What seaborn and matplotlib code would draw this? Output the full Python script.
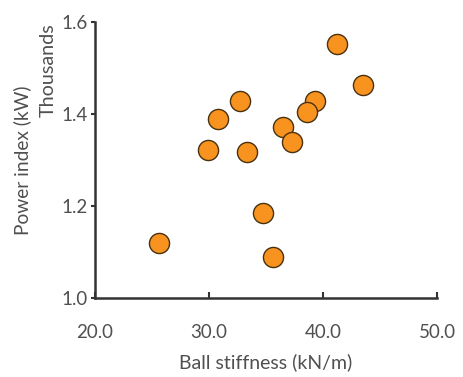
import matplotlib
matplotlib.use("Agg")
import matplotlib.pyplot as plt
import seaborn as sns
import pandas as pd

stiffness = [41.2, 43.5, 32.7, 39.3, 38.6, 30.8, 36.5, 37.3, 29.9, 33.3, 34.7, 25.6, 35.6]
power = [1.552, 1.463, 1.429, 1.428, 1.405, 1.389, 1.372, 1.338, 1.322, 1.316, 1.184, 1.120, 1.088]
x_ticks = [20.0, 30.0, 40.0, 50.0]
y_ticks = [1.0, 1.2, 1.4, 1.6]

df = pd.DataFrame({"stiffness": stiffness, "power": power})

sns.set_theme(style="white")
plt.rcParams['font.family'] = ['Lato', 'DejaVu Sans']

fig = plt.figure(figsize=(4.63, 3.77), dpi=100)
ax = fig.add_axes([0.205, 0.21, 0.739, 0.732])

sns.scatterplot(data=df, x="stiffness", y="power", ax=ax, s=210,
                color="#F7931E", edgecolor="#4a3210", linewidth=1.0, zorder=3)

ax.set_xlim(20, 50)
ax.set_ylim(1.0, 1.6)
ax.set_xticks(x_ticks)
ax.set_xticklabels([f"{v:.1f}" for v in x_ticks])
ax.set_yticks(y_ticks)
ax.set_yticklabels([f"{v:.1f}" for v in y_ticks])

for side in ["top", "right"]:
    ax.spines[side].set_visible(False)
for side in ["left", "bottom"]:
    ax.spines[side].set_color("#333333")
    ax.spines[side].set_linewidth(1.8)

ax.tick_params(axis="x", direction="in", length=4, width=1.5, color="#333333",
               labelsize=13.5, labelcolor="#505050", pad=19)
ax.tick_params(axis="y", direction="out", length=3, width=1.5, color="#333333",
               labelsize=13.5, labelcolor="#505050", pad=2)
ax.tick_params(left=True, bottom=True)

ax.set_xlabel("Ball stiffness (kN/m)", fontsize=14, color="#505050", labelpad=9)
ax.set_ylabel("Power index (kW)", fontsize=13.8, color="#505050", labelpad=22)
fig.text(0.104, 0.814, "Thousands", rotation=90, fontsize=14.2, color="#505050",
         ha="center", va="center")

fig.savefig("out.png", dpi=100)
